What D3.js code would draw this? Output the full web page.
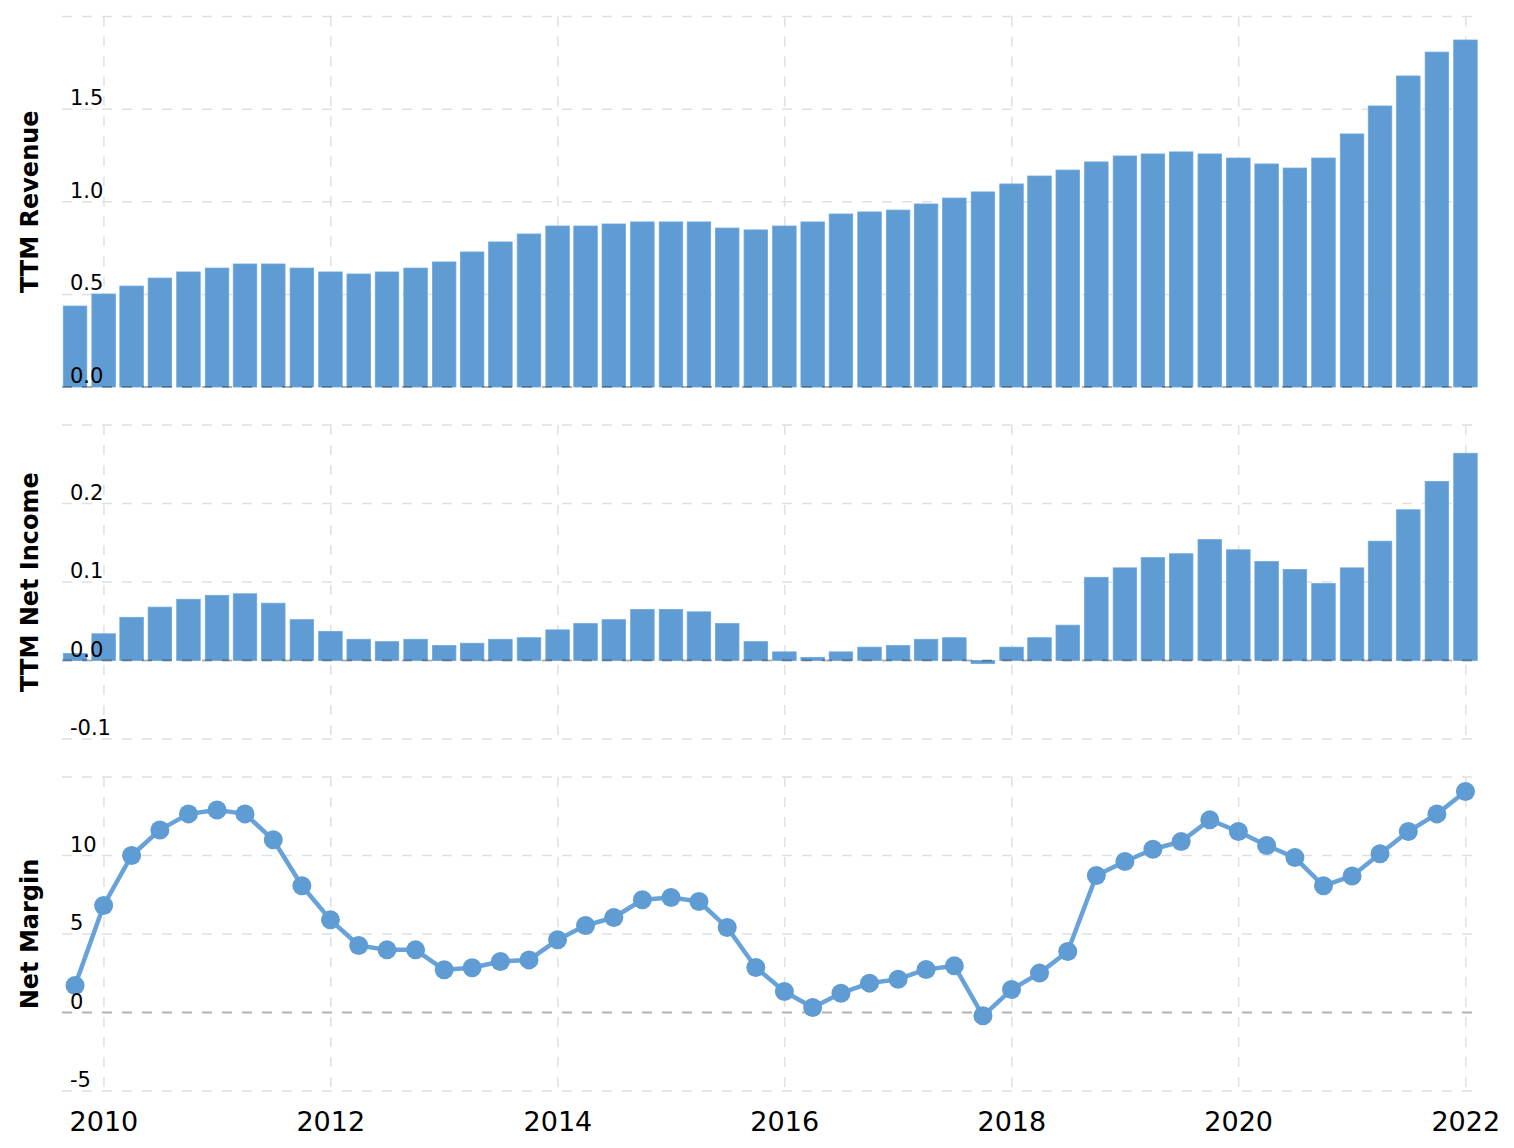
<!DOCTYPE html>
<html>
<head>
<meta charset="utf-8">
<script src="https://cdn.jsdelivr.net/npm/d3@7"></script>
<style>
  body { margin: 0; background: #fff; }
  text { font-family: "DejaVu Sans", Verdana, sans-serif; fill: #000; }
</style>
</head>
<body>
<script>
// quarter-end dates, one per bar / point
const quarters = [
    '2009-09-30', '2009-12-31',
    '2010-03-31', '2010-06-30', '2010-09-30', '2010-12-31',
    '2011-03-31', '2011-06-30', '2011-09-30', '2011-12-31',
    '2012-03-31', '2012-06-30', '2012-09-30', '2012-12-31',
    '2013-03-31', '2013-06-30', '2013-09-30', '2013-12-31',
    '2014-03-31', '2014-06-30', '2014-09-30', '2014-12-31',
    '2015-03-31', '2015-06-30', '2015-09-30', '2015-12-31',
    '2016-03-31', '2016-06-30', '2016-09-30', '2016-12-31',
    '2017-03-31', '2017-06-30', '2017-09-30', '2017-12-31',
    '2018-03-31', '2018-06-30', '2018-09-30', '2018-12-31',
    '2019-03-31', '2019-06-30', '2019-09-30', '2019-12-31',
    '2020-03-31', '2020-06-30', '2020-09-30', '2020-12-31',
    '2021-03-31', '2021-06-30', '2021-09-30', '2021-12-31'
];

const revenue = [
    0.437, 0.502, 0.545, 0.588, 0.621, 0.642, 0.664, 0.664, 0.642, 0.621,
    0.610, 0.621, 0.642, 0.675, 0.729, 0.783, 0.826, 0.869, 0.869, 0.880,
    0.891, 0.891, 0.891, 0.858, 0.848, 0.869, 0.891, 0.934, 0.945, 0.955,
    0.988, 1.020, 1.053, 1.096, 1.139, 1.171, 1.215, 1.247, 1.258, 1.269,
    1.258, 1.236, 1.204, 1.182, 1.236, 1.366, 1.517, 1.679, 1.808, 1.873
];

const netIncome = [
    0.009, 0.034, 0.055, 0.068, 0.078, 0.083, 0.085, 0.073, 0.052, 0.037,
    0.027, 0.024, 0.027, 0.019, 0.022, 0.027, 0.029, 0.039, 0.047, 0.052,
    0.065, 0.065, 0.062, 0.047, 0.024, 0.011, 0.004, 0.011, 0.017, 0.019,
    0.027, 0.029, -0.004, 0.017, 0.029, 0.045, 0.106, 0.118, 0.131, 0.136,
    0.154, 0.141, 0.126, 0.116, 0.098, 0.118, 0.152, 0.192, 0.228, 0.264
];

const netMargin = [
    1.72, 6.82, 10.0, 11.63, 12.65, 12.9, 12.65, 11.0, 8.07, 5.9,
    4.27, 3.99, 3.99, 2.72, 2.85, 3.25, 3.35, 4.63, 5.54, 6.05,
    7.18, 7.32, 7.07, 5.41, 2.87, 1.34, 0.32, 1.23, 1.87, 2.12,
    2.74, 2.97, -0.21, 1.46, 2.51, 3.89, 8.73, 9.62, 10.40, 10.89,
    12.27, 11.53, 10.64, 9.87, 8.07, 8.70, 10.11, 11.53, 12.65, 14.08
];

const yearTicks = [2010, 2012, 2014, 2016, 2018, 2020, 2022];
const revenueTicks = [0, 0.5, 1.0, 1.5, 2.0];
const incomeTicks = [-0.1, 0, 0.1, 0.2, 0.3];
const marginTicks = [-5, 0, 5, 10, 15];

const width = 1514, height = 1148;
const left = 62, right = 1472;
const blue = '#5f9cd3';
const gridColor = '#e0e0e0';

const parse = d3.utcParse('%Y-%m-%d');
const dates = quarters.map(parse);

const x = d3.scaleUtc()
    .domain([Date.UTC(2009, 7, 19), Date.UTC(2022, 0, 21)])
    .range([left, right]);

const svg = d3.select('body').append('svg')
    .attr('width', width)
    .attr('height', height)
    .attr('viewBox', `0 0 ${width} ${height}`);

const panels = [
    { title: 'TTM Revenue', values: revenue, ticks: revenueTicks, domain: [0, 2], range: [387, 16.5], type: 'bar', fmt: d3.format('.1f') },
    { title: 'TTM Net Income', values: netIncome, ticks: incomeTicks, domain: [-0.1, 0.3], range: [739, 425], type: 'bar', fmt: d3.format('.1f') },
    { title: 'Net Margin', values: netMargin, ticks: marginTicks, domain: [-5, 15], range: [1091, 777], type: 'line', fmt: d3.format('d') }
];

panels.forEach(p => {
    const y = d3.scaleLinear().domain(p.domain).range(p.range);
    const g = svg.append('g');
    const top = y(p.domain[1]), bottom = y(p.domain[0]);

    // horizontal grid (zero line drawn later, on top)
    g.selectAll('.hgrid')
        .data(p.ticks.filter(t => t !== 0))
        .join('line')
        .attr('x1', left).attr('x2', right)
        .attr('y1', d => y(d)).attr('y2', d => y(d))
        .attr('stroke', gridColor)
        .attr('stroke-width', 1.5)
        .attr('stroke-dasharray', '10,10');

    // vertical grid
    g.selectAll('.vgrid')
        .data(yearTicks)
        .join('line')
        .attr('x1', d => x(Date.UTC(d, 0, 1))).attr('x2', d => x(Date.UTC(d, 0, 1)))
        .attr('y1', top).attr('y2', bottom)
        .attr('stroke', gridColor)
        .attr('stroke-width', 1.5)
        .attr('stroke-dasharray', '10,10');

    if (p.type === 'bar') {
        const bw = 23.5;
        g.selectAll('rect')
            .data(p.values)
            .join('rect')
            .attr('x', (d, i) => x(dates[i]) - bw / 2)
            .attr('width', bw)
            .attr('y', d => Math.min(y(d), y(0)))
            .attr('height', d => Math.abs(y(d) - y(0)))
            .attr('fill', blue)
            .attr('stroke', '#6ba7dd')
            .attr('stroke-width', 0.8);
    }

    // zero line
    g.append('line')
        .attr('x1', left).attr('x2', right)
        .attr('y1', y(0)).attr('y2', y(0))
        .attr('stroke', '#000')
        .attr('stroke-opacity', 0.3)
        .attr('stroke-width', 2)
        .attr('stroke-dasharray', '10,10');

    if (p.type === 'line') {
        const line = d3.line()
            .x((d, i) => x(dates[i]))
            .y(d => y(d));
        g.append('path')
            .datum(p.values)
            .attr('d', line)
            .attr('fill', 'none')
            .attr('stroke', '#67a3d9')
            .attr('stroke-width', 4.5)
            .attr('stroke-linejoin', 'round');
        g.selectAll('circle')
            .data(p.values)
            .join('circle')
            .attr('cx', (d, i) => x(dates[i]))
            .attr('cy', d => y(d))
            .attr('r', 9.5)
            .attr('fill', blue);
    }

    // tick labels, sitting above their grid lines
    g.selectAll('.tl')
        .data(p.ticks.slice(0, -1))
        .join('text')
        .attr('x', 70)
        .attr('y', d => y(d) - 4)
        .attr('font-size', 21)
        .text(d => p.fmt(d).replace('\u2212', '-'));

    // axis title
    g.append('text')
        .attr('transform', `translate(37.5,${(top + bottom) / 2}) rotate(-90)`)
        .attr('text-anchor', 'middle')
        .attr('font-size', 24)
        .attr('font-weight', 'bold')
        .text(p.title);
});

// year labels
svg.selectAll('.year')
    .data(yearTicks)
    .join('text')
    .attr('x', d => x(Date.UTC(d, 0, 1)))
    .attr('y', 1131)
    .attr('text-anchor', 'middle')
    .attr('font-size', 27)
    .text(d => d);
</script>
</body>
</html>
